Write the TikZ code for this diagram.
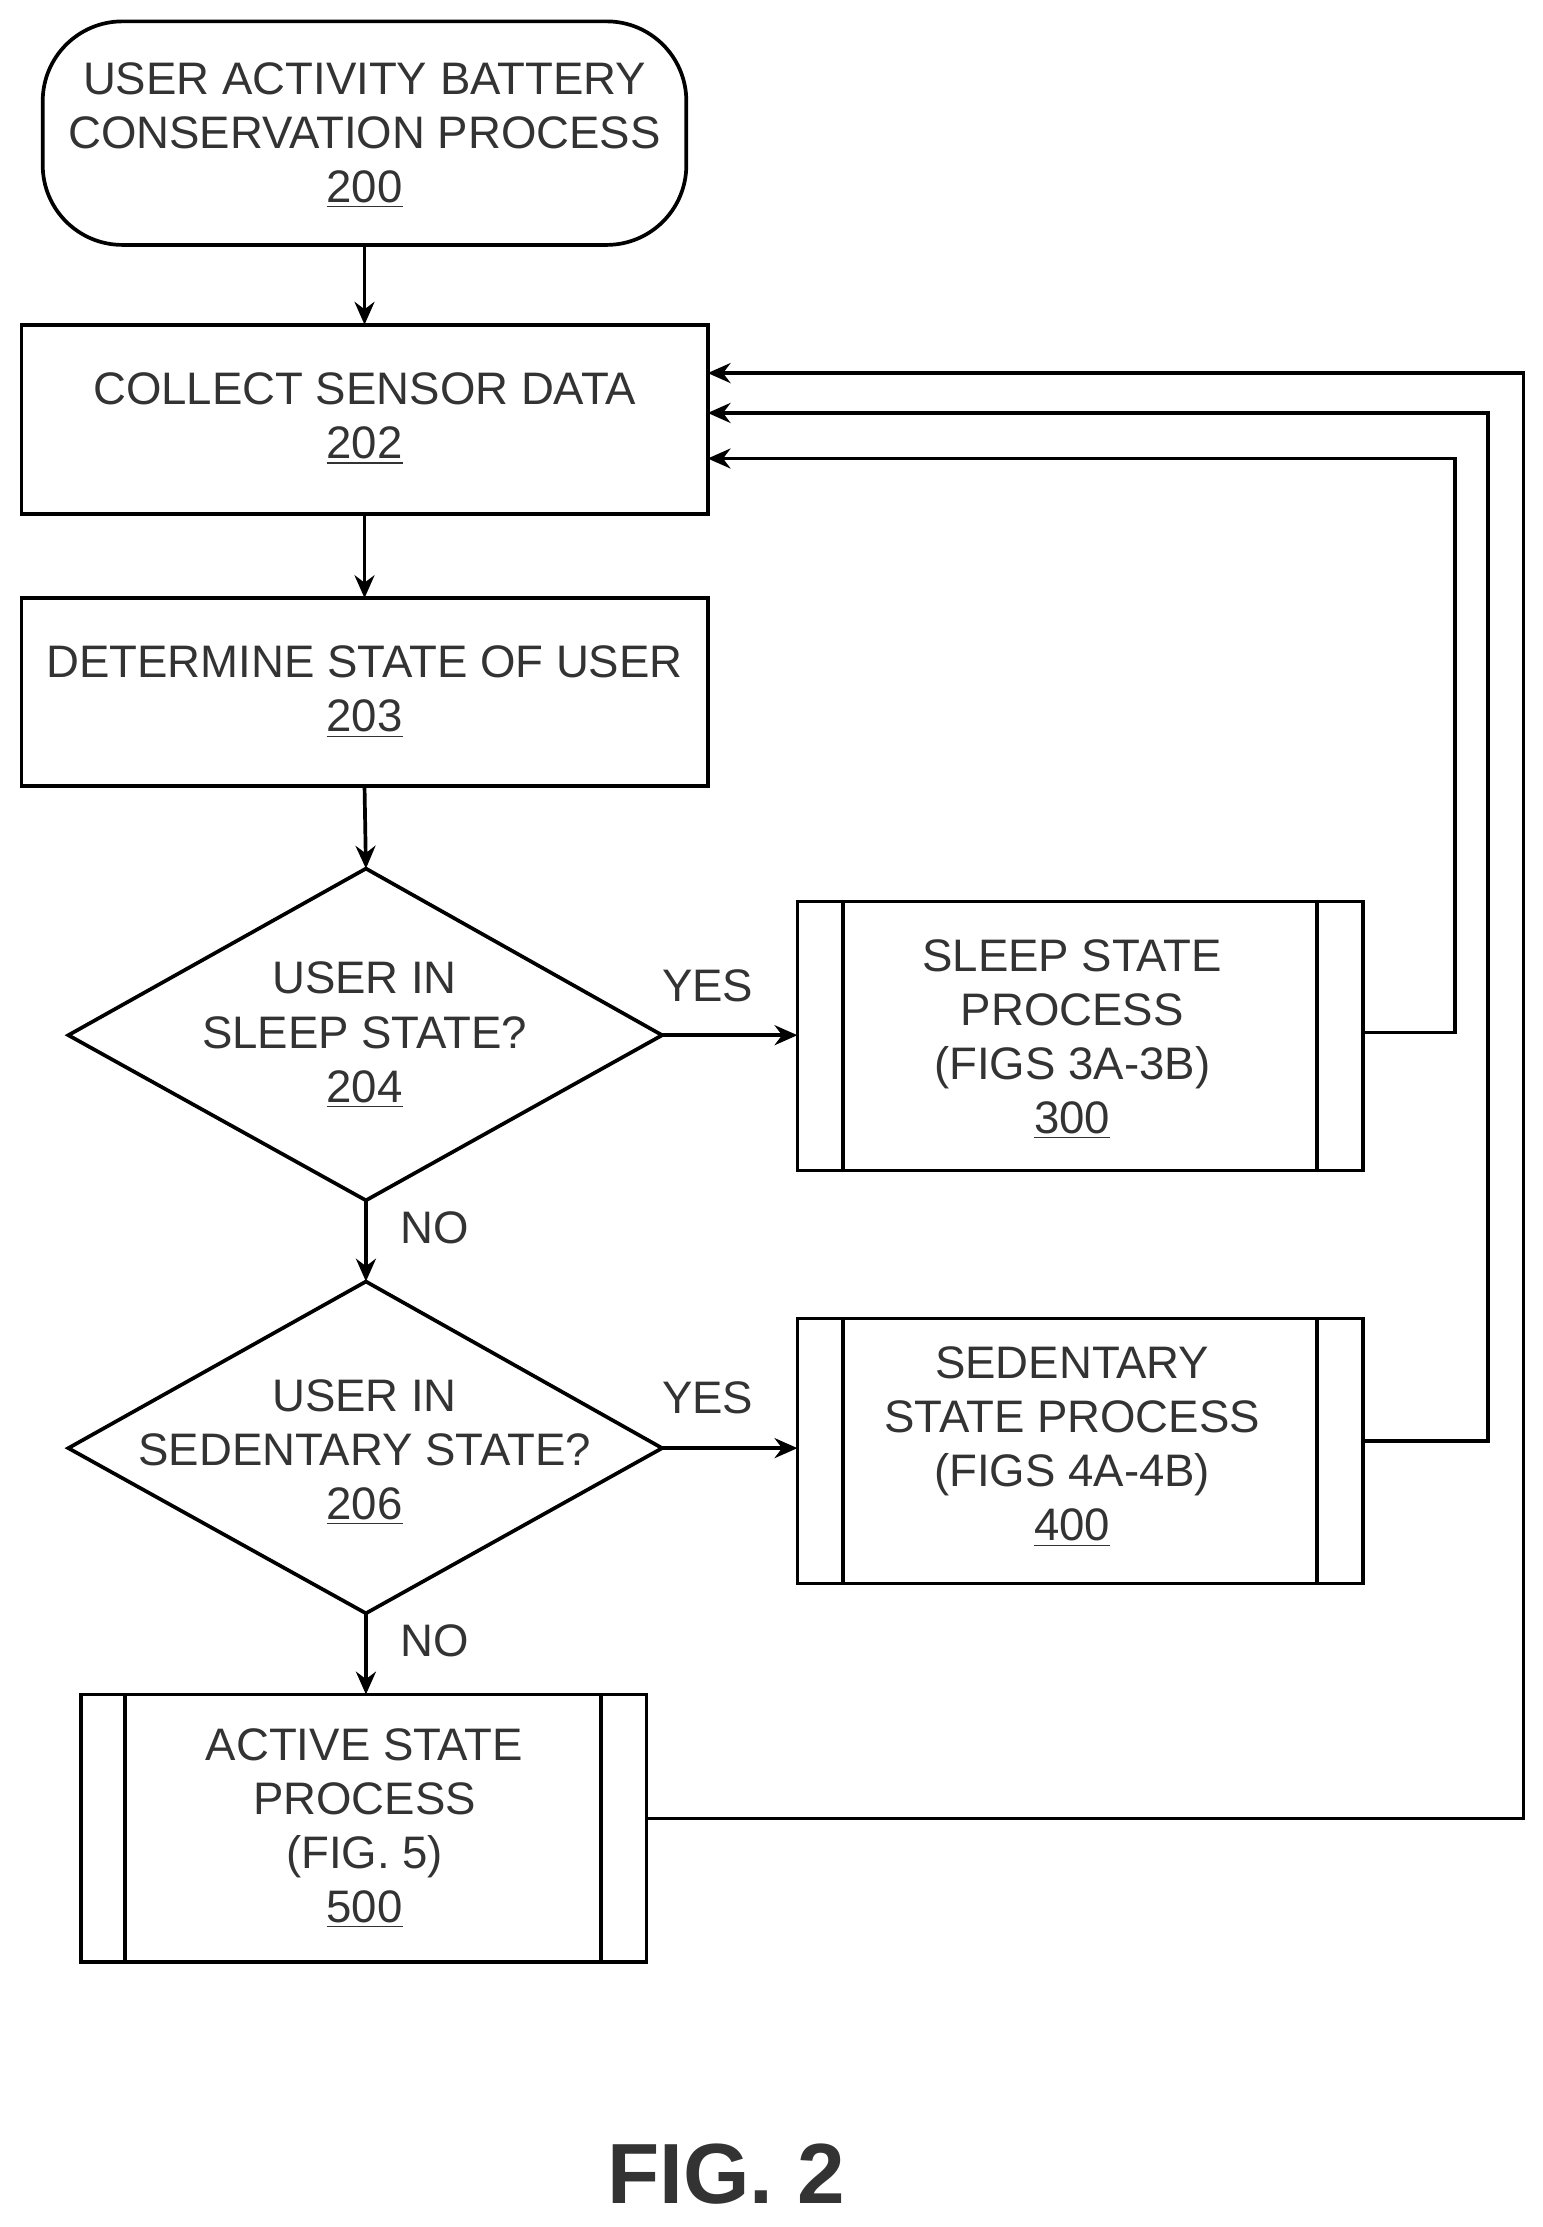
\documentclass[tikz,border=0pt]{standalone}
\usepackage{fontspec}
\setmainfont{Liberation Sans}
\usetikzlibrary{arrows.meta,shapes.geometric}
\begin{document}
\begin{tikzpicture}[x=0.5pt,y=-0.5pt,
  box/.style={draw,line width=1.3pt},
  txt/.style={font=\fontsize{16}{19}\selectfont,align=center,text=black!80},
  lbl/.style={font=\fontsize{16}{19}\selectfont,text=black!80},
  ar/.style={line width=1.3pt,-{Stealth[length=8pt,width=7pt]}},
  ln/.style={line width=1.3pt}]
\useasboundingbox (0,0) rectangle (1083,1564);
% start
\draw[box,rounded corners=28pt] (30,15) rectangle (482,172);
\node[txt] (s) at (256,95) {USER ACTIVITY BATTERY\\CONSERVATION PROCESS\\\underline{200}};
\coordinate (sb) at (256,172);
% collect
\draw[box] (15,228) rectangle (497,361);
\node[txt] (c) at (256,294) {COLLECT SENSOR DATA\\\underline{202}};
\coordinate (ct) at (256,228); \coordinate (cb) at (256,361);
% determine
\draw[box] (15,420) rectangle (497,552);
\node[txt] (d) at (256,486) {DETERMINE STATE OF USER\\\underline{203}};
\coordinate (dt) at (256,420); \coordinate (db) at (256,552);
% diamond 204
\draw[box] (257,610) -- (465,727) -- (257,843) -- (48,727) -- cycle;
\node[txt] (q1) at (256,727) {USER IN\\SLEEP STATE?\\\underline{204}};
\coordinate (q1t) at (257,610); \coordinate (q1r) at (465,727); \coordinate (q1b) at (257,843);
% diamond 206
\draw[box] (257,900) -- (465,1017) -- (257,1133) -- (48,1017) -- cycle;
\node[txt] (q2) at (256,1020) {USER IN\\SEDENTARY STATE?\\\underline{206}};
\coordinate (q2t) at (257,900); \coordinate (q2r) at (465,1017); \coordinate (q2b) at (257,1133);
% sleep box
\draw[box] (560,633) rectangle (957,822); \draw[ln] (592,633)--(592,822) (925,633)--(925,822);
\node[txt] (p3) at (753,730) {SLEEP STATE\\PROCESS\\(FIGS 3A-3B)\\\underline{300}};
\coordinate (p3l) at (560,727); \coordinate (p3r) at (957,725);
% sedentary box
\draw[box] (560,926) rectangle (957,1112); \draw[ln] (592,926)--(592,1112) (925,926)--(925,1112);
\node[txt] (p4) at (753,1016) {SEDENTARY\\STATE PROCESS\\(FIGS 4A-4B)\\\underline{400}};
\coordinate (p4l) at (560,1017); \coordinate (p4r) at (957,1012);
% active box
\draw[box] (57,1190) rectangle (454,1378); \draw[ln] (88,1190)--(88,1378) (422,1190)--(422,1378);
\node[txt] (p5) at (256,1284) {ACTIVE STATE\\PROCESS\\(FIG. 5)\\\underline{500}};
\coordinate (p5t) at (257,1190); \coordinate (p5r) at (454,1277);
% arrows
\draw[ar] (sb) -- (ct);
\draw[ar] (cb) -- (dt);
\draw[ar] (db) -- (q1t);
\draw[ar] (q1r) -- (p3l);
\draw[ar] (q1b) -- (q2t);
\draw[ar] (q2r) -- (p4l);
\draw[ar] (q2b) -- (p5t);
\node[lbl] (y1) at (497,692) {YES};
\node[lbl] (n1) at (305,862) {NO};
\node[lbl] (y2) at (497,982) {YES};
\node[lbl] (n2) at (305,1152) {NO};
\coordinate (r1) at (497,262); \coordinate (r2) at (497,290); \coordinate (r3) at (497,322);
\draw[ar] (p5r) -| (1070,262) -- (r1);
\draw[ar] (p4r) -| (1045,290) -- (r2);
\draw[ar] (p3r) -| (1022,322) -- (r3);
\node[font=\bfseries\fontsize{30}{34}\selectfont,text=black!80] (fig) at (510,1527) {FIG. 2};
\end{tikzpicture}
\end{document}
